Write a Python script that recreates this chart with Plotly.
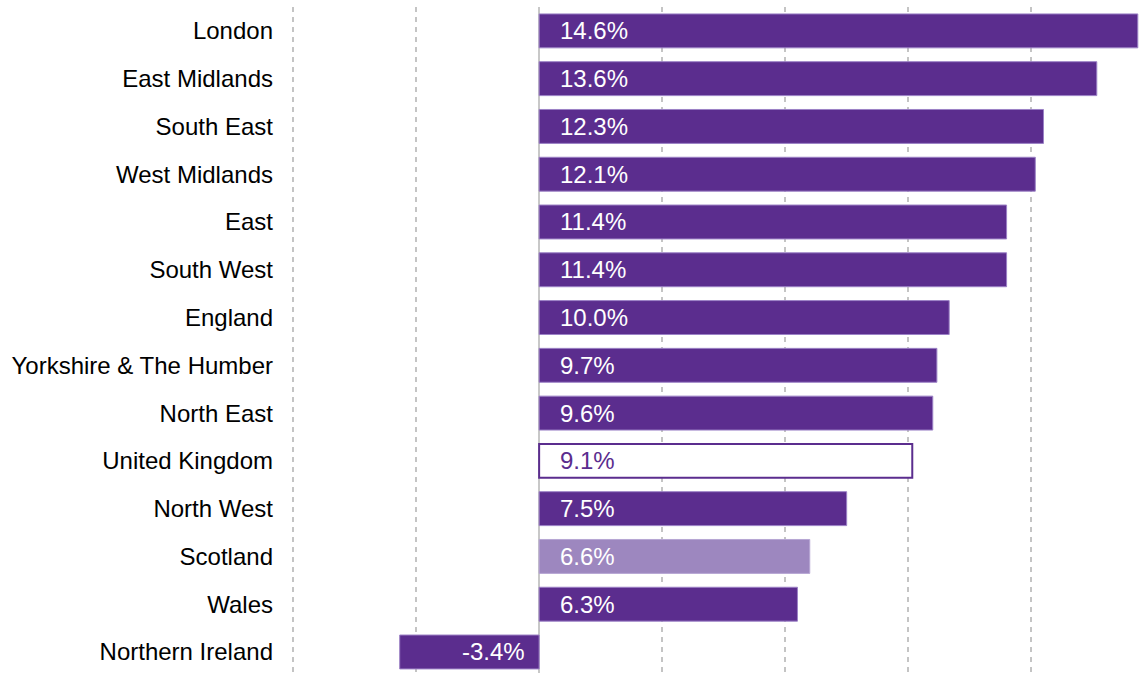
import plotly.graph_objects as go

# data
regions = ["London", "East Midlands", "South East", "West Midlands", "East",
           "South West", "England", "Yorkshire & The Humber", "North East",
           "United Kingdom", "North West", "Scotland", "Wales", "Northern Ireland"]
growth = [14.6, 13.6, 12.3, 12.1, 11.4, 11.4, 10.0, 9.7, 9.6, 9.1, 7.5, 6.6, 6.3, -3.4]

PURPLE = "#5b2d8e"
LIGHT = "#9d87bf"
EDGE = "#9c82c6"

fills = []
edges = []
widths = []
for r in regions:
    if r == "United Kingdom":
        fills.append("white")
        edges.append(PURPLE)
        widths.append(2)
    elif r == "Scotland":
        fills.append(LIGHT)
        edges.append("#b7a6d4")
        widths.append(1)
    else:
        fills.append(PURPLE)
        edges.append(EDGE)
        widths.append(1)

fig = go.Figure()
fig.add_trace(go.Bar(
    y=regions, x=growth, orientation="h",
    marker=dict(color=fills, line=dict(color=edges, width=widths)),
    hoverinfo="skip",
))

# value labels near the zero line
for r, v in zip(regions, growth):
    pos = v >= 0
    fig.add_annotation(
        x=0, y=r, text=f"{v:.1f}%", showarrow=False,
        xanchor="left" if pos else "right",
        xshift=19 if pos else -12,
        font=dict(size=24, color=PURPLE if r == "United Kingdom" else "white",
                  family="Liberation Sans, Arial, sans-serif"),
    )

fig.update_layout(
    width=1146, height=673,
    margin=dict(l=289, r=0, t=7, b=0),
    plot_bgcolor="white", paper_bgcolor="white",
    bargap=0.29, showlegend=False,
    font=dict(family="Liberation Sans, Arial, sans-serif", size=24, color="#000"),
)
fig.update_xaxes(
    range=[-6.1, 14.8], dtick=3, tick0=0, showticklabels=False, automargin=False,
    showgrid=True, gridcolor="#c4c4c4", gridwidth=1.5, griddash="5px,5px",
    zeroline=True, zerolinecolor="#c8c8c8", zerolinewidth=2,
)
fig.update_yaxes(
    type="category", categoryorder="array", categoryarray=regions,
    range=[13.44, -0.5], showgrid=False, ticklabelstandoff=15, automargin=False,
    tickfont=dict(size=24, color="#000"),
)

# drop the page's default body margin so the figure sits at the window corner
fig.write_html("out.html", config={"displayModeBar": False},
               post_script="document.body.style.margin='0';")
